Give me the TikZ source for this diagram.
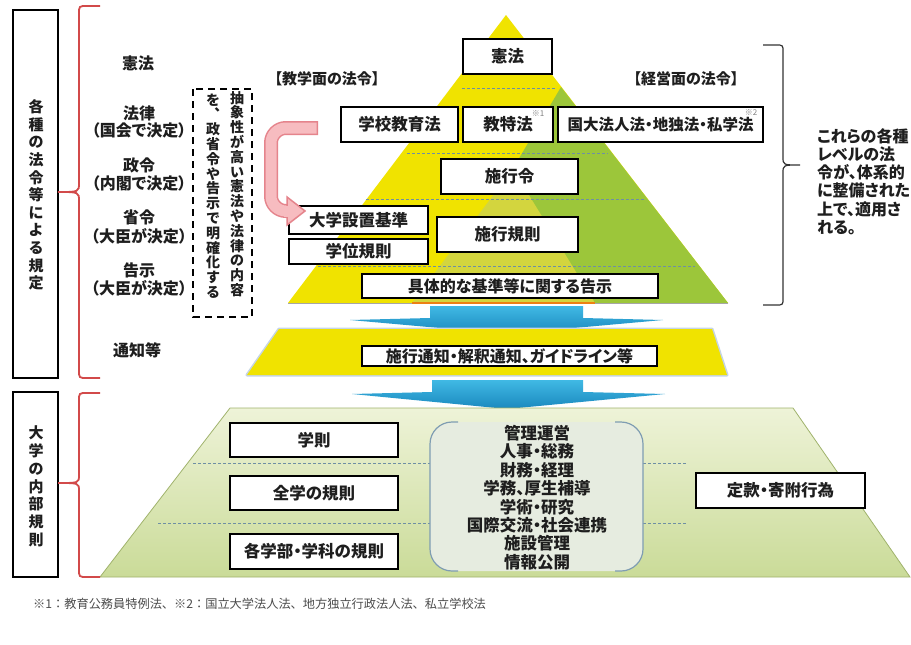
\documentclass[tikz,border=0pt]{standalone}
\usepackage{fontspec}
\setmainfont{Noto Sans CJK JP}[RawFeature={+palt}]
\newfontfamily\vfont{Noto Sans CJK JP}
\usetikzlibrary{arrows.meta}
\definecolor{txt}{HTML}{1E1E1E}
\definecolor{pyy}{HTML}{F0E300}
\definecolor{pyg}{HTML}{9CC63A}
\definecolor{pyo}{HTML}{D3D53E}
\definecolor{dashc}{HTML}{6F8FA3}
\definecolor{redb}{HTML}{D24A4A}
\definecolor{pinkf}{HTML}{F7BCC0}
\definecolor{pinkb}{HTML}{E5848C}
\definecolor{bluet}{HTML}{40B9E4}
\definecolor{blueb}{HTML}{1A88BE}
\definecolor{trt}{HTML}{EEF3D8}
\definecolor{trb}{HTML}{CADB98}
\definecolor{trd}{HTML}{A0B36C}
\definecolor{panel}{HTML}{E6ECE0}
\definecolor{panelb}{HTML}{7F9DB2}
\definecolor{bandsh}{HTML}{C5D5E5}
\tikzset{
  lbox/.style={draw=black, line width=1.6pt, fill=white, inner sep=0pt,
    font=\fontsize{16.5}{19}\selectfont\bfseries, text=txt},
  lab/.style={font=\fontsize{16}{19}\selectfont\bfseries, text=txt, inner sep=0pt},
  vtext/.style={align=center, inner sep=0pt, text=txt},
  dline/.style={draw=dashc, line width=0.8pt, dash pattern=on 3pt off 2pt},
  bluearr/.style={top color=bluet, bottom color=blueb},
  note/.style={font=\fontsize{8}{9}\selectfont, text=gray, inner sep=0pt},
}
\begin{document}
\begin{tikzpicture}[x=1pt,y=-1pt]
\useasboundingbox (0,0) rectangle (911,645);
\fill[white] (0,0) rectangle (911,645);

% ---------- pyramid ----------
\fill[pyy] (506,15) -- (728,303) -- (288,303) -- cycle;
\fill[pyg] (561,87) -- (728,303) -- (434,303) -- cycle;
\fill[pyo] (513,169) -- (595,303) -- (412,303) -- cycle;
\draw[gray!70, line width=0.8pt] (288,303) -- (728,303);
\draw[orange!70!brown, line width=1.2pt] (412,303) -- (595,303);
% level lines
\draw[dline] (462,88) -- (556,88);
\draw[dline] (407,153) -- (608,153);
\draw[dline] (366,199) -- (645,199);
\draw[dline] (318,266) -- (695,266);

% ---------- boxes in pyramid ----------
\node[lbox, minimum width=89, minimum height=35] (kenpo) at (507.5,56.5) {憲法};
\node[lbox, minimum width=117, minimum height=35] (gakko) at (399.5,124.5) {学校教育法};
\node[lbox, minimum width=90, minimum height=35] (kyotoku) at (508,124.5) {教特法};
\node[lbox, minimum width=205, minimum height=35, font=\fontsize{15.5}{18}\selectfont\bfseries] (kokudai) at (660.5,124.5) {国大法人法・地独法・私学法};
\node[note] (note1) at (538,114) {※1};
\node[note] (note2) at (751,113) {※2};
\node[lbox, minimum width=137, minimum height=35] (shikorei) at (509.5,176.5) {施行令};
\node[lbox, minimum width=139, minimum height=28] (secchi) at (358.5,220) {大学設置基準};
\node[lbox, minimum width=139, minimum height=25] (gakui) at (358.5,251.5) {学位規則};
\node[lbox, minimum width=141, minimum height=35] (kisoku) at (507.5,234.5) {施行規則};
\node[lbox, minimum width=296, minimum height=24, font=\fontsize{16}{18}\selectfont\bfseries] (kokuji) at (510,286) {具体的な基準等に関する告示};

% headings
\node[lab, font=\fontsize{15}{17}\selectfont\bfseries] (kyogaku) at (327,79) {【教学面の法令】};
\node[lab, font=\fontsize{15}{17}\selectfont\bfseries] (keiei) at (686,79) {【経営面の法令】};

% ---------- pink curved arrow ----------
\draw[line width=14pt, pinkb, rounded corners=15] (318,128) -- (271,128) -- (271,211) -- (290,211);
\draw[line width=11pt, pinkf, rounded corners=15] (316.5,128) -- (271,128) -- (271,211) -- (290,211);
\filldraw[fill=pinkf, draw=pinkb, line width=1.5pt] (287,197) -- (305,211) -- (287,225) -- cycle;
\draw[line width=11pt, pinkf] (284,211) -- (289,211);
\coordinate (arrowtip) at (305,211);

% ---------- blue arrows and band ----------
\shade[bluearr] (430,306) -- (583,306) -- (583,318) -- (663,320) -- (507,334) -- (350,320) -- (430,318) -- cycle;
\draw[bandsh, line width=3pt, line join=round] (279,329) -- (712,329) -- (727,375) -- (247,375) -- cycle;
\fill[pyy] (279,329) -- (712,329) -- (727,375) -- (247,375) -- cycle;
\node[lbox, minimum width=295, minimum height=20, font=\fontsize{16}{18}\selectfont\bfseries] (tsuchi) at (509.5,356) {施行通知・解釈通知、ガイドライン等};
\shade[bluearr] (432,380) -- (583,380) -- (583,392) -- (665,394) -- (507,409) -- (352,394) -- (432,392) -- cycle;

% ---------- bottom trapezoid ----------
\shade[top color=trt, bottom color=trb] (230,408) -- (793,408) -- (910,577) -- (100,577) -- cycle;
\draw[trd, line width=0.8pt] (230,408) -- (793,408) -- (910,577) -- (100,577) -- cycle;
\draw[dline] (193,463) -- (430,463);
\draw[dline] (643,463) -- (686,463);
\draw[dline] (158,523) -- (430,523);
\draw[dline] (643,523) -- (686,523);
\fill[panel, rounded corners=22] (430,422) rectangle (643,571);
\draw[panelb, line width=1.2pt, rounded corners=22] (458,422) -- (430,422) -- (430,571) -- (458,571);
\draw[panelb, line width=1.2pt, rounded corners=22] (615,422) -- (643,422) -- (643,571) -- (615,571);
\node[vtext, font=\fontsize{16.5}{18.4}\selectfont\bfseries] (kanri) at (537,497.5)
  {管理運営\\人事・総務\\財務・経理\\学務、厚生補導\\学術・研究\\国際交流・社会連携\\施設管理\\情報公開};
\node[lbox, minimum width=168, minimum height=34] (gakusoku) at (314,440) {学則};
\node[lbox, minimum width=168, minimum height=34] (zengaku) at (314,493) {全学の規則};
\node[lbox, minimum width=168, minimum height=35] (kakubu) at (314,551.5) {各学部・学科の規則};
\node[lbox, minimum width=169, minimum height=35] (teikan) at (780.5,490.5) {定款・寄附行為};

% ---------- left side ----------
\draw[black, line width=1.6pt] (13,10) rectangle (58,378);
\node[vtext, font=\vfont\fontsize{15}{17.6}\selectfont\bfseries] (kakushu) at (36,195)
  {各\\種\\の\\法\\令\\等\\に\\よ\\る\\規\\定};
\draw[black, line width=1.6pt] (13,392) rectangle (58,577);
\node[vtext, font=\vfont\fontsize{15}{17.8}\selectfont\bfseries] (naibu) at (36,486.5)
  {大\\学\\の\\内\\部\\規\\則};
\draw[redb, line width=1.8pt] (100,6) -- (87,6) .. controls (79,6) .. (79,14) -- (79,183)
  .. controls (79,192) .. (58,192) .. controls (79,192) .. (79,201) -- (79,370)
  .. controls (79,378) .. (87,378) -- (100,378);
\draw[redb, line width=1.8pt] (100,393) -- (87,393) .. controls (79,393) .. (79,401) -- (79,475)
  .. controls (79,483) .. (58,483) .. controls (79,483) .. (79,491) -- (79,569)
  .. controls (79,577) .. (87,577) -- (100,577);

\node[lab] (l1) at (138,63) {憲法};
\node[lab] (l2) at (139,113) {法律};
\node[lab] (l2b) at (139,130) {（国会で決定）};
\node[lab] (l3) at (139,165) {政令};
\node[lab] (l3b) at (139,183) {（内閣で決定）};
\node[lab] (l4) at (139,217) {省令};
\node[lab] (l4b) at (139,236) {（大臣が決定）};
\node[lab] (l5) at (139,270) {告示};
\node[lab] (l5b) at (139,288) {（大臣が決定）};
\node[lab] (l6) at (137,350) {通知等};

% dashed vertical note
\draw[black, line width=1.6pt, dash pattern=on 7pt off 5pt] (193,89) rectangle (252,317);
\node[vtext, font=\vfont\fontsize{14}{14.8}\selectfont\bfseries] (vcol1) at (237,194)
  {抽\\象\\性\\が\\高\\い\\憲\\法\\や\\法\\律\\の\\内\\容};
\node[vtext, font=\vfont\fontsize{14}{14.8}\selectfont\bfseries] (vcol2) at (213,196)
  {を\\︑\\政\\省\\令\\や\\告\\示\\で\\明\\確\\化\\す\\る};

% ---------- right side ----------
\draw[black!80, line width=1.2pt] (763,45) -- (776,45) .. controls (783,45) .. (783,52) -- (783,157)
  .. controls (783,165) .. (800,165) .. controls (783,165) .. (783,173) -- (783,298)
  .. controls (783,305) .. (776,305) -- (763,305);
\node[vtext, align=left, anchor=north west, font=\fontsize{16}{18.3}\selectfont\bfseries] (righttext) at (817,128)
  {これらの各種\\レベルの法\\令が、体系的\\に整備された\\上で、適用さ\\れる。};

% ---------- footnote ----------
\node[anchor=west, inner sep=0pt, text=black!70, font=\vfont\fontsize{12.2}{14}\selectfont] (foot) at (33,604)
  {※1：教育公務員特例法、※2：国立大学法人法、地方独立行政法人法、私立学校法};
\end{tikzpicture}
\end{document}
